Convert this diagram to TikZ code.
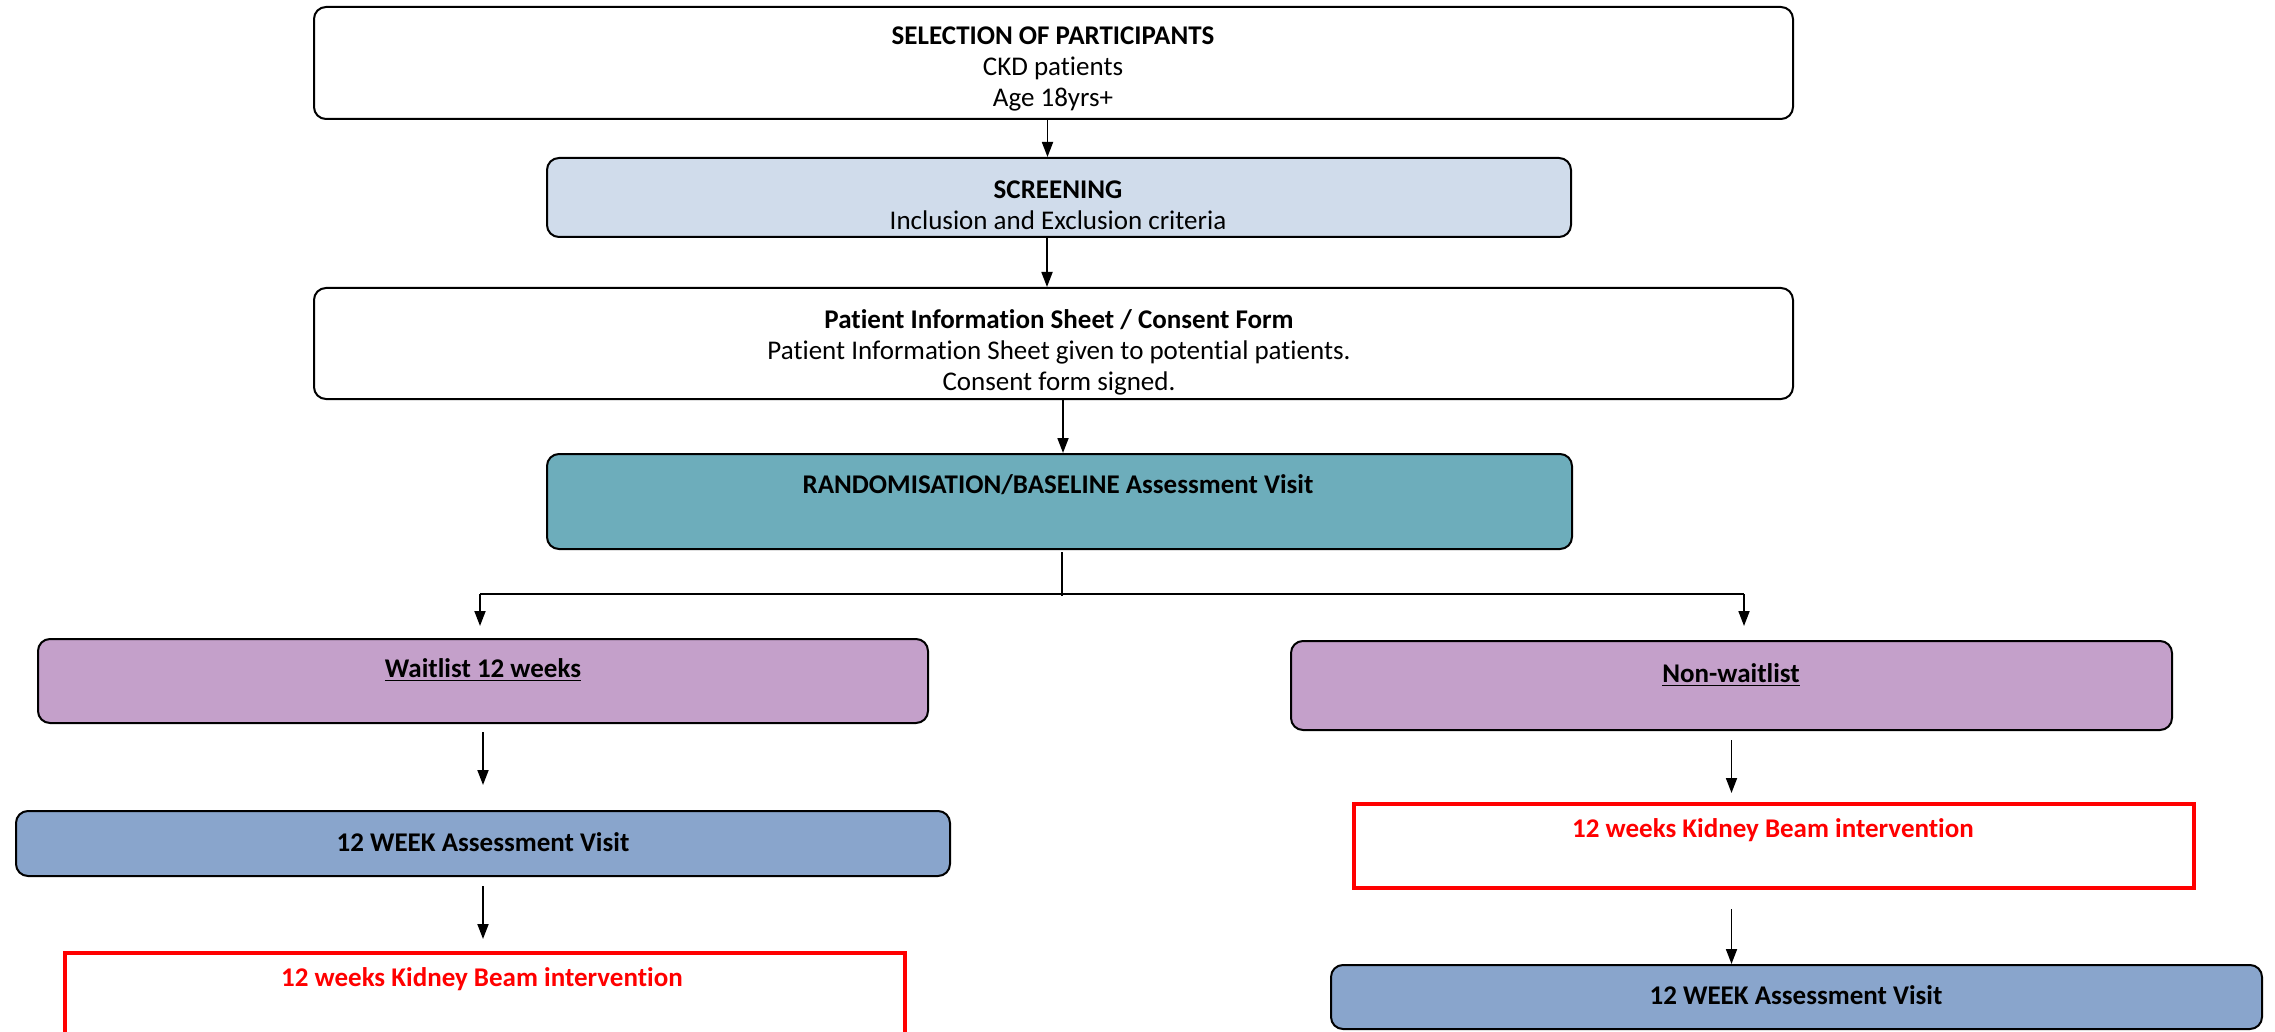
\documentclass[tikz,border=0pt]{standalone}
\usepackage{fontspec}
\setmainfont{Carlito}[Ligatures=NoCommon]
\usetikzlibrary{arrows.meta,calc}
\definecolor{screenblue}{HTML}{D0DCEB}
\definecolor{teal}{HTML}{6DADBB}
\definecolor{lilac}{HTML}{C4A0CA}
\definecolor{weekblue}{HTML}{89A5CC}
\begin{document}
\begin{tikzpicture}[x=0.5pt,y=-0.5pt,
  font=\fontsize{13.5}{15.5}\selectfont,
  box/.style={draw=black,line width=1pt,rounded corners=6pt,anchor=north west,inner sep=0pt},
  redbox/.style={draw=red,line width=2pt,anchor=north west,inner sep=0pt,fill=white},
  txt/.style={align=center,inner sep=0pt},
  conn/.style={line width=0.9pt},
  arr/.style={-{Triangle[length=7.5pt,width=5.5pt]},line width=0.9pt}]
\useasboundingbox (0,0) rectangle (2275,1032);

% boxes
\node[box,fill=white,minimum width=739.5pt,minimum height=56pt] (b1) at (313,6) {};
\node[box,fill=screenblue,minimum width=512pt,minimum height=39.5pt] (b2) at (546,157) {};
\node[box,fill=white,minimum width=739.5pt,minimum height=55.5pt] (b3) at (313,287) {};
\node[box,fill=teal,minimum width=512.5pt,minimum height=47.5pt] (b4) at (546,453) {};
\node[box,fill=lilac,minimum width=445pt,minimum height=42pt] (bw) at (37,638) {};
\node[box,fill=lilac,minimum width=440.5pt,minimum height=44.5pt] (bn) at (1290,640) {};
\node[box,fill=weekblue,minimum width=467pt,minimum height=32.5pt] (wl) at (15,810) {};
\node[redbox,minimum width=420pt,minimum height=50pt] (kl) at (63,951) {};
\node[redbox,minimum width=420pt,minimum height=42pt] (kr) at (1352,802) {};
\node[box,fill=weekblue,minimum width=465.5pt,minimum height=32pt] (wr) at (1330,964) {};

% texts
\node[txt] (t1) at (1053,69) {\textbf{SELECTION OF PARTICIPANTS}\\CKD patients\\Age 18yrs+};
\node[txt] (t2) at (1058,205) {\textbf{SCREENING}\\Inclusion and Exclusion criteria};
\node[txt] (t3) at (1059,352) {\textbf{Patient Information Sheet / Consent Form}\\Patient Information Sheet given to potential patients.\\Consent form signed.};
\node[txt] (t4) at (1058,485) {\textbf{RANDOMISATION/BASELINE Assessment Visit}};
\node[txt] (tw) at (483,670) {\textbf{\underline{Waitlist 12 weeks}}};
\node[txt] (tn) at (1731,675) {\textbf{\underline{Non-waitlist}}};
\node[txt] (twl) at (483,842) {\textbf{12 WEEK Assessment Visit}};
\node[txt,text=red] (tkl) at (482,979) {\textbf{12 weeks Kidney Beam intervention}};
\node[txt,text=red] (tkr) at (1773,830) {\textbf{12 weeks Kidney Beam intervention}};
\node[txt] (twr) at (1796,995) {\textbf{12 WEEK Assessment Visit}};

% connectors
\coordinate (c1) at ($(b1.south)+(-6,0)$);
\draw[arr] (c1) -- (c1 |- b2.north);
\coordinate (c2) at ($(b2.south)+(-12,0)$);
\draw[arr] (c2) -- (c2 |- b3.north);
\coordinate (c3) at ($(b3.south)+(9.5,0)$);
\draw[arr] (c3) -- (c3 |- b4.north);

\coordinate (sp) at ($(b4.south)+(2.5,46)$);
\coordinate (sl) at (480,594);
\coordinate (sr) at (1744,594);
\draw[conn,shorten <=1pt] ($(b4.south)+(2.5,0)$) -- (sp);
\draw[conn] (sl) -- (sr);
\draw[arr,shorten >=6pt] (sl) -- (sl |- bw.north);
\draw[arr,shorten >=7pt] (sr) -- (sr |- bn.north);

\draw[arr,shorten <=4pt,shorten >=12.5pt] (bw) -- (bw |- wl.north);
\draw[arr,shorten <=4.5pt,shorten >=6pt] (wl) -- (wl |- kl.north);
\draw[arr,shorten <=4.5pt,shorten >=4.5pt] (bn) -- (bn |- kr.north);
\draw[arr,shorten <=9.5pt] (bn |- kr.south) -- (bn |- wr.north);
\end{tikzpicture}
\end{document}
